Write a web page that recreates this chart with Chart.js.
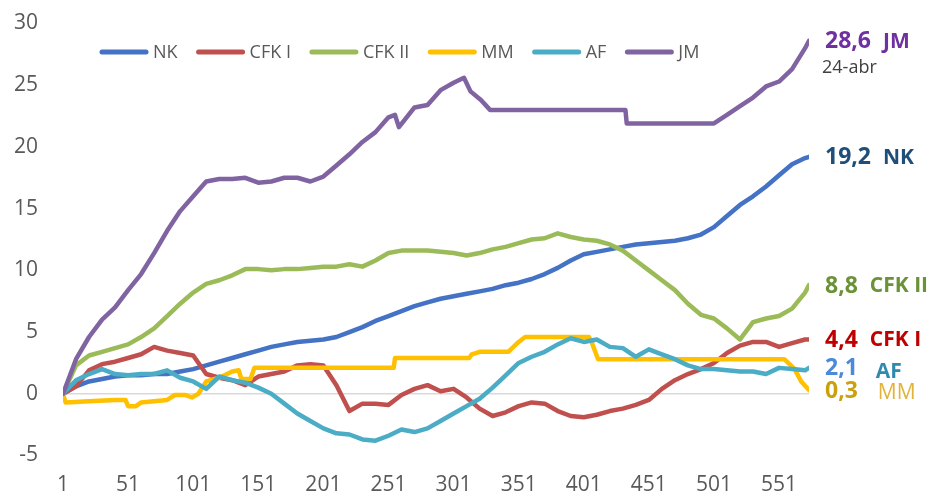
<!DOCTYPE html>
<html>
<head>
<meta charset="utf-8">
<script src="https://cdn.jsdelivr.net/npm/chart.js@4.4.1/dist/chart.umd.min.js"></script>
<style>
  body { margin: 0; background: #fff; }
  #wrap { width: 934px; height: 497px; }
</style>
</head>
<body>
<div id="wrap"><canvas id="chart" width="934" height="497"></canvas></div>
<script>
// series names, in legend order
const seriesNames = ["NK", "CFK I", "CFK II", "MM", "AF", "JM"];

// day numbers shared by the smoother series
const days = [1, 11, 21, 31, 41, 51, 61, 71, 81, 91,
  101, 111, 121, 131, 141, 151, 161, 171, 181, 191,
  201, 211, 221, 231, 241, 251, 261, 271, 281, 291,
  301, 311, 321, 331, 341, 351, 361, 371, 381, 391,
  401, 411, 421, 431, 441, 451, 461, 471, 481, 491,
  501, 511, 521, 531, 541, 551, 561, 571, 574];

const nk = [0, 0.6, 1.0, 1.2, 1.4, 1.5, 1.5, 1.6, 1.6, 1.8,
  2.0, 2.3, 2.6, 2.9, 3.2, 3.5, 3.8, 4.0, 4.2, 4.3,
  4.4, 4.6, 5.0, 5.4, 5.9, 6.3, 6.7, 7.1, 7.4, 7.7,
  7.9, 8.1, 8.3, 8.5, 8.8, 9.0, 9.3, 9.7, 10.2, 10.8,
  11.3, 11.5, 11.7, 11.9, 12.1, 12.2, 12.3, 12.4, 12.6, 12.9,
  13.5, 14.4, 15.3, 16.0, 16.8, 17.7, 18.6, 19.1, 19.2];

const cfk1 = [0, 0.6, 1.9, 2.4, 2.6, 2.9, 3.2, 3.8, 3.5, 3.3,
  3.1, 1.6, 1.3, 1.1, 0.7, 1.4, 1.6, 1.8, 2.3, 2.4,
  2.3, 0.7, -1.4, -0.8, -0.8, -0.9, -0.1, 0.4, 0.7, 0.2,
  0.4, -0.3, -1.2, -1.8, -1.5, -1.0, -0.7, -0.8, -1.4, -1.8,
  -1.9, -1.7, -1.4, -1.2, -0.9, -0.5, 0.4, 1.1, 1.6, 2.0,
  2.5, 3.3, 3.9, 4.2, 4.2, 3.8, 4.1, 4.4, 4.4];

const cfk2 = [0, 2.3, 3.1, 3.4, 3.7, 4.0, 4.6, 5.3, 6.3, 7.3,
  8.2, 8.9, 9.2, 9.6, 10.1, 10.1, 10.0, 10.1, 10.1, 10.2,
  10.3, 10.3, 10.5, 10.3, 10.8, 11.4, 11.6, 11.6, 11.6, 11.5,
  11.4, 11.2, 11.4, 11.7, 11.9, 12.2, 12.5, 12.6, 13.0, 12.7,
  12.5, 12.4, 12.1, 11.6, 10.8, 10.0, 9.2, 8.4, 7.3, 6.4,
  6.1, 5.3, 4.4, 5.8, 6.1, 6.3, 6.9, 8.2, 8.8];

const af = [0, 1.1, 1.6, 2.0, 1.6, 1.5, 1.6, 1.6, 1.9, 1.3,
  1.0, 0.4, 1.4, 1.1, 0.9, 0.5, 0.0, -0.8, -1.6, -2.2,
  -2.8, -3.2, -3.3, -3.7, -3.8, -3.4, -2.9, -3.1, -2.8, -2.2,
  -1.6, -1.0, -0.4, 0.5, 1.5, 2.5, 3.0, 3.4, 4.0, 4.5,
  4.2, 4.4, 3.8, 3.7, 3.0, 3.6, 3.2, 2.8, 2.3, 2.0,
  2.0, 1.9, 1.8, 1.8, 1.6, 2.1, 2.0, 1.9, 2.1];

// MM and JM move in steps, so they keep their own break days
const mmDays = [1, 3, 21, 41, 49, 51, 57, 61, 71, 81, 87, 95, 100, 105, 111, 121, 131, 136, 138, 145,
  148, 255, 256, 313, 315, 321, 343, 351, 356, 405, 407, 412, 555, 563, 568, 574];
const mm = [0, -0.7, -0.6, -0.5, -0.5, -1.0, -1.0, -0.7, -0.6, -0.5, -0.1, -0.1, -0.3, 0.0, 1.0, 1.3, 1.8, 1.9, 1.2, 1.2,
  2.1, 2.1, 2.9, 2.9, 3.2, 3.4, 3.4, 4.2, 4.6, 4.6, 4.2, 2.8, 2.8, 2.0, 1.0, 0.3];

const jmDays = [1, 11, 21, 31, 41, 51, 61, 71, 81, 91, 101, 111, 121, 131, 141, 151, 161, 171, 181, 191,
  201, 211, 221, 231, 241, 251, 256, 259, 271, 281, 291, 301, 309, 314, 322, 329, 433, 434,
  501, 511, 521, 531, 541, 551, 561, 571, 574];
const jm = [0, 2.8, 4.6, 6.0, 7.0, 8.4, 9.7, 11.4, 13.2, 14.8, 16.0, 17.2, 17.4, 17.4, 17.5, 17.1, 17.2, 17.5, 17.5, 17.2,
  17.6, 18.5, 19.4, 20.4, 21.2, 22.4, 22.6, 21.6, 23.2, 23.4, 24.6, 25.2, 25.6, 24.5, 23.8, 23.0, 23.0, 21.9,
  21.9, 22.6, 23.3, 24.0, 24.9, 25.3, 26.3, 28.0, 28.6];

const xTicks = [1, 51, 101, 151, 201, 251, 301, 351, 401, 451, 501, 551];
const lastDateNote = "24-abr";

// styles
const lineColors = ["#4472C4", "#C0504D", "#9BBB59", "#FFC000", "#4BACC6", "#8064A2"];
const valueColors = ["#1F4E79", "#C00000", "#6A9237", "#C9A00E", "#4A8AD8", "#7030A0"];
const nameColors = ["#1F4E79", "#C00000", "#6A9237", "#E2B33A", "#2F8AAE", "#7030A0"];

function pairs(xs, ys) {
  return ys.map((y, i) => ({ x: xs[i], y: y }));
}

const seriesData = [
  pairs(days, nk),
  pairs(days, cfk1),
  pairs(days, cfk2),
  pairs(mmDays, mm),
  pairs(days, af),
  pairs(jmDays, jm),
];

// legend drawn as a row of short lines inside the plot
const lineLegend = {
  id: "lineLegend",
  afterDraw(chart, args, opts) {
    const ctx = chart.ctx;
    ctx.save();
    ctx.font = opts.font;
    ctx.textBaseline = "middle";
    let x = opts.left;
    chart.data.datasets.forEach((ds) => {
      ctx.strokeStyle = ds.borderColor;
      ctx.lineWidth = 5;
      ctx.lineCap = "round";
      ctx.beginPath();
      ctx.moveTo(x + 2, opts.y);
      ctx.lineTo(x + opts.lineLength - 2, opts.y);
      ctx.stroke();
      x += opts.lineLength + opts.gap;
      ctx.fillStyle = opts.color;
      ctx.fillText(ds.label, x, opts.y + 1);
      x += ctx.measureText(ds.label).width + opts.spacing;
    });
    ctx.restore();
  },
};

// value + name at the end of each line
const endLabels = {
  id: "endLabels",
  afterDraw(chart, args, opts) {
    const ctx = chart.ctx;
    ctx.save();
    ctx.textBaseline = "middle";
    chart.data.datasets.forEach((ds, i) => {
      const meta = chart.getDatasetMeta(i);
      const pt = meta.data[meta.data.length - 1];
      const last = ds.data[ds.data.length - 1].y;
      const txt = last.toFixed(1).replace(".", ",");
      const x = pt.x + opts.offset;
      ctx.font = opts.valueFont;
      ctx.fillStyle = valueColors[i];
      ctx.fillText(txt, x, pt.y + 1);
      const w = ctx.measureText(txt).width;
      ctx.font = ds.label === "MM" ? opts.nameFontLight : opts.nameFont;
      ctx.fillStyle = nameColors[i];
      const shift = opts.nameShift[ds.label] || [0, 0];
      ctx.fillText(ds.label, x + w + opts.gap + shift[0], pt.y + 1 + shift[1]);
      if (ds.label === "JM") {
        ctx.font = opts.noteFont;
        ctx.fillStyle = "#404040";
        ctx.fillText(lastDateNote, x - 3, pt.y + 27);
      }
    });
    ctx.restore();
  },
};

const ctx = document.getElementById("chart").getContext("2d");
new Chart(ctx, {
  type: "line",
  data: {
    datasets: seriesNames.map((name, i) => ({
      label: name,
      data: seriesData[i],
      borderColor: lineColors[i],
      backgroundColor: lineColors[i],
      borderWidth: 4.5,
      borderCapStyle: "round",
      borderJoinStyle: "round",
      pointRadius: 0,
      tension: 0,
      order: seriesNames.length - i,
    })),
  },
  options: {
    responsive: false,
    animation: false,
    layout: { padding: { left: 0, right: 125, top: 23.5, bottom: 0 } },
    plugins: {
      legend: { display: false },
      tooltip: { enabled: false },
      lineLegend: {
        left: 100, y: 52, lineLength: 48, gap: 5, spacing: 19,
        font: '18px "Open Sans"', color: "#595959",
      },
      endLabels: {
        offset: 16, gap: 12,
        valueFont: 'bold 23px "Open Sans"',
        nameFont: 'bold 21px "Open Sans"',
        nameFontLight: '21px "Open Sans"',
        noteFont: '18px "Open Sans"',
        nameShift: { AF: [6, 3], MM: [8, 2] },
      },
    },
    scales: {
      x: {
        type: "linear",
        min: 1,
        max: 574,
        afterBuildTicks: (scale) => { scale.ticks = xTicks.map((v) => ({ value: v })); },
        afterFit: (scale) => { scale.height = 41.5; },
        grid: { display: false },
        border: { display: false },
        ticks: { color: "#595959", font: { family: "Open Sans", size: 21 }, padding: 9, maxRotation: 0 },
      },
      y: {
        min: -5,
        max: 30,
        afterFit: (scale) => { scale.width = 63; },
        border: { display: false },
        grid: {
          drawTicks: true,
          tickLength: 25,
          tickColor: "rgba(0,0,0,0)",
          lineWidth: 1.5,
          color: (c) => (c.tick && c.tick.value === 0 ? "#D9D9D9" : "rgba(0,0,0,0)"),
        },
        ticks: { stepSize: 5, color: "#595959", font: { family: "Open Sans", size: 21 }, padding: 0 },
      },
    },
  },
  plugins: [lineLegend, endLabels],
});
</script>
</body>
</html>
